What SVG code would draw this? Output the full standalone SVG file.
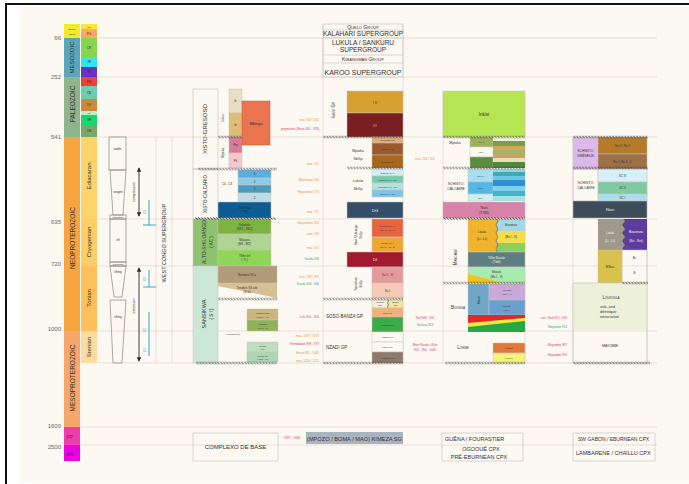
<svg xmlns="http://www.w3.org/2000/svg" width="689" height="484" viewBox="0 0 689 484">
<style>
text{font-family:"Liberation Sans",Arial,Helvetica,sans-serif;fill:#333}
.m{text-anchor:middle}
.e{text-anchor:end}
.v{dominant-baseline:central}
.sc{font-variant:small-caps}
.f25{font-size:2.5px}.f3{font-size:3px}.f35{font-size:3.5px}.f4{font-size:4px}.f45{font-size:4.5px}.f5{font-size:5px}.f55{font-size:5.5px}.f6{font-size:6px}.f65{font-size:6.5px}.f7{font-size:7px}
.grid{stroke:#DCD5CB;stroke-width:0.7;fill:none}
.bx{stroke:#C9C3BA;stroke-width:0.5}
.nb{fill:none;stroke:#C4BEB5;stroke-width:0.6}
.tec{fill:none;stroke:#8A8580;stroke-width:0.7}
.or{fill:#E4984D}.rd{fill:#D2456A}.gn{fill:#2EAF82}.bl{fill:#3AA2CC}
.lt{fill:#F2F2F2}
.age{font-size:6px;fill:#666;text-anchor:end}
.blue{stroke:#38A5D3;stroke-width:1;fill:none}
.arr{stroke:#2A2A2A;stroke-width:0.9;fill:none}
</style>
<defs>
<marker id="ah" viewBox="0 0 6 6" refX="5" refY="3" markerWidth="5" markerHeight="5" orient="auto-start-reverse"><path d="M0 0L6 3L0 6Z" fill="#2A2A2A"/></marker>
<pattern id="wv" width="3" height="3" patternUnits="userSpaceOnUse"><path d="M-0.1 1.5Q0.75 -0.2 1.5 1.5T3.1 1.5" fill="none" stroke="#2A2A2A" stroke-width="0.9"/></pattern>
</defs>

<rect x="0" y="0" width="689" height="484" fill="#FFFFFF"/>
<rect x="20" y="7" width="669" height="476" fill="#FCF8F2"/>
<rect x="5" y="3" width="684" height="2" fill="#111"/>
<rect x="5" y="3" width="2" height="481" fill="#111"/>

<g id="grid" class="grid">
<path d="M97 38H657M97 77H657M97 137H657M97 219H657M97 266H657M97 331H657M97 363H657M80 427H657M80 445H657"/>
<path d="M156 137V363M172 137V363M323 24V363M403 24V363M443 91V363M525 91V363M573 137V363M647 137V363"/>
</g>

<g id="timescale">
<rect x="64" y="24" width="16" height="14" fill="#F2EC2C"/>
<text class="f25 m" x="72" y="30">CENO-</text><text class="f25 m" x="72" y="34.5">ZOIC</text>
<rect x="64" y="38" width="16" height="39" fill="#5AA7BC"/>
<text class="f6 m v" transform="translate(72 57.5) rotate(-90)">MESOZOIC</text>
<rect x="64" y="77" width="16" height="60" fill="#90B48C"/>
<text class="f65 m v" transform="translate(72 104) rotate(-90)">PALEOZOIC</text>
<rect x="64" y="137" width="16" height="194" fill="#F6A540"/>
<text class="f65 m v" transform="translate(72 238) rotate(-90)">NEOPROTEROZOIC</text>
<rect x="64" y="331" width="16" height="96" fill="#F7A66C"/>
<text class="f65 m v" transform="translate(72 378) rotate(-90)">MESOPROTEROZOIC</text>
<rect x="64" y="427" width="16" height="18" fill="#F03CAE"/>
<text class="f5" x="66.5" y="439" style="fill:#7A1F66">PP</text>
<rect x="64" y="445" width="16" height="16" fill="#EE00E6"/>
<text class="f5" x="66.5" y="455.5" style="fill:#6A1070">AR</text>

<rect x="81" y="24" width="16" height="5" fill="#FDE53C"/>
<text class="f25 m" x="89" y="28">NG</text>
<rect x="81" y="29" width="16" height="9" fill="#FBA862"/>
<text class="f3 m" x="89" y="34.5">PG</text>
<rect x="81" y="38" width="16" height="19" fill="#86D54E"/>
<text class="f3 m" x="89" y="48.5">CR</text>
<rect x="81" y="57" width="16" height="10" fill="#2FE6F0"/>
<text class="f3 m" x="89" y="63">JR</text>
<rect x="81" y="67" width="16" height="10" fill="#6A31C8"/>
<text class="f3 m" x="89" y="73">TR</text>
<rect x="81" y="77" width="16" height="9" fill="#EC4238"/>
<text class="f3 m" x="89" y="82.5">PM</text>
<rect x="81" y="86" width="16" height="13" fill="#6ECDB1"/>
<text class="f3 m" x="89" y="93.5">CB</text>
<rect x="81" y="99" width="16" height="12" fill="#C98B3B"/>
<text class="f3 m" x="89" y="106">DV</text>
<rect x="81" y="111" width="16" height="4" fill="#BEEFC4"/>
<text class="f25 m" x="89" y="114">SL</text>
<rect x="81" y="115" width="16" height="10" fill="#18D86B"/>
<text class="f3 m" x="89" y="121">OR</text>
<rect x="81" y="125" width="16" height="12" fill="#79A66B"/>
<text class="f3 m" x="89" y="132">CM</text>
<rect x="81" y="137" width="16" height="82" fill="#FDD46C"/>
<text class="f6 m v" transform="translate(89 176) rotate(-90)">Ediacaran</text>
<rect x="81" y="219" width="16" height="47" fill="#FDCE66"/>
<text class="f6 m v" transform="translate(89 242) rotate(-90)">Cryogenian</text>
<rect x="81" y="266" width="16" height="65" fill="#FDC05A"/>
<text class="f6 m v" transform="translate(89 298) rotate(-90)">Tonian</text>
<rect x="81" y="331" width="16" height="32" fill="#FCDB9F"/>
<text class="f6 m v" transform="translate(89 347) rotate(-90)">Stenian</text>

<text class="age" x="61" y="40">66</text>
<text class="age" x="61" y="79">252</text>
<text class="age" x="61" y="139">541</text>
<text class="age" x="61" y="224">635</text>
<text class="age" x="61" y="266">720</text>
<text class="age" x="61" y="331">1000</text>
<text class="age" x="61" y="428">1600</text>
<text class="age" x="61" y="449">2500</text>
</g>

<g id="tectonics">
<g class="tec">
<rect x="109" y="137" width="17" height="33"/>
<path d="M110 170L126 170L123 215L113 215Z"/>
<rect x="110" y="215" width="16" height="4"/>
<rect x="110" y="219" width="16" height="43"/>
<rect x="110" y="262" width="16" height="4"/>
<path d="M110 266L126 266L122 297L114 297Z"/>
<path d="M110 300L126 300L122 363L113 363Z"/>
</g>
<text class="f3 m" x="117.5" y="150">stable</text>
<text class="f3 m" x="118" y="193">orogen</text>
<text class="f25 m" x="118" y="218">glaciation</text>
<text class="f3 m" x="118" y="241">rift</text>
<text class="f25 m" x="118" y="265">glaciation</text>
<text class="f3 m" x="118" y="273">rifting</text>
<text class="f3 m" x="118" y="318">rifting</text>
<text class="f35 m v" transform="translate(134 192) rotate(-90)">compression</text>
<text class="f35 m v" transform="translate(134 306) rotate(-90)">extension</text>
<path class="blue" d="M149 200V225M143 225H156M149 270V287M143 287H156M149 312V356"/>
<text class="f3 m v bl" transform="translate(145 212) rotate(-90)">E3</text>
<text class="f3 m v bl" transform="translate(145 279) rotate(-90)">E3</text>
<text class="f3 m v bl" transform="translate(145 330) rotate(-90)">E2</text>
<text class="f3 m v bl" transform="translate(145 350) rotate(-90)">E1</text>
<text class="f55 m v" transform="translate(164 243) rotate(-90)">WEST CONGO SUPERGROUP</text>
</g>

<g id="congo-drc">
<rect class="nb" x="193" y="89" width="25" height="80"/>
<text class="f6 m v" transform="translate(205 129) rotate(-90)">XISTO-GRESOSO</text>
<rect class="nb" x="193" y="169" width="25" height="50"/>
<text class="f45 m v" transform="translate(205 194) rotate(-90)">XISTO-CALCARIO</text>
<rect class="bx" x="193" y="219" width="25" height="47" fill="#8DC26F"/>
<text class="f5 m v" transform="translate(203.5 242) rotate(-90)">ALTO-SHILOANGO</text>
<text class="f45 m v" transform="translate(211 242) rotate(-90)">( AC )</text>
<rect class="bx" x="193" y="266" width="25" height="97" fill="#CDE7D7"/>
<text class="f55 m v" transform="translate(203.5 314) rotate(-90)">SANSIKWA</text>
<text class="f45 m v" transform="translate(211 314) rotate(-90)">( S I )</text>
<text class="f3 m v" transform="translate(223 118) rotate(-90)">Inkisi</text>
<text class="f3 m v" transform="translate(223 153) rotate(-90)">Mpioka</text>
<rect class="bx" x="229" y="89" width="13" height="24" fill="#E6DFC6"/>
<text class="f3 m" x="235.5" y="102">In</text>
<rect class="bx" x="229" y="113" width="13" height="24" fill="#DDBC74"/>
<text class="f3 m" x="235.5" y="126">In</text>
<rect class="bx" x="229" y="137" width="13" height="16" fill="#D97C95"/>
<text class="f3 m" x="235.5" y="146">Pw</text>
<rect class="bx" x="229" y="153" width="13" height="15" fill="#F6C8CE"/>
<text class="f3 m" x="235.5" y="161.5">Pk</text>
<rect x="242" y="101" width="28" height="44" fill="#EA7350" stroke="#C8563A" stroke-width="0.5"/>
<text class="f4 m" x="256" y="124.5">Mbinga</text>
<text class="f3 e or" x="319" y="121">max. 558 / 561</text>
<text class="f3 e rd" x="319" y="130">pegmatites (Buria 491 - 474)</text>
<text class="f3 e or" x="319" y="165">max. 557</text>
<text class="f3 m" x="227" y="185">C6 - C8</text>
<rect class="bx" x="238" y="170" width="33" height="8" fill="#5BAEE0"/>
<text class="f3 m" x="254.5" y="175">5</text>
<rect class="bx" x="238" y="178" width="33" height="7" fill="#8ECBE8"/>
<text class="f3 m" x="254.5" y="182.5">4</text>
<rect class="bx" x="238" y="185" width="33" height="8" fill="#4C9BB8"/>
<text class="f3 m" x="254.5" y="190">3</text>
<rect class="bx" x="238" y="193" width="33" height="9" fill="#BFDCE6"/>
<text class="f3 m" x="254.5" y="198.5">2</text>
<rect class="bx" x="218" y="202" width="53" height="16" fill="#0D5C96"/>
<text class="f3 m" x="244.5" y="209" style="fill:#1d2c3a">Tillite Sup</text>
<text class="f3 m" x="244.5" y="213" style="fill:#1d2c3a">( TS )</text>
<text class="f3 e or" x="319" y="181">Mbizhanga 580</text>
<text class="f3 e or" x="319" y="193">Mayumbian 575</text>
<text class="f3 e or" x="319" y="213">max. 727</text>
<rect class="bx" x="218" y="219" width="53" height="15" fill="#7CB443"/>
<text class="f3 m" x="244.5" y="225.5">Sekelolo</text>
<text class="f3 m" x="244.5" y="229.5">(SK1 - SK2)</text>
<rect class="bx" x="218" y="234" width="53" height="16" fill="#AFD493"/>
<text class="f3 m" x="244.5" y="241">Mouyou</text>
<text class="f3 m" x="244.5" y="245">(M1 - M2)</text>
<rect class="bx" x="218" y="250" width="53" height="16" fill="#90D45A"/>
<text class="f3 m" x="244.5" y="257">Tillite Inf</text>
<text class="f3 m" x="244.5" y="261">( TI )</text>
<text class="f3 e or" x="319" y="224">Mayumbian 650</text>
<text class="f3 e or" x="319" y="235">max. 690</text>
<text class="f3 e or" x="319" y="249">max. 670</text>
<text class="f3 e gn" x="319" y="260">Sunda 694</text>
<rect class="bx" x="218" y="266" width="59" height="17" fill="#B29B78"/>
<text class="f3 m" x="247" y="275.5">Bembezi  SI-a</text>
<path d="M218 283L277 283L277 298L218 286Z" fill="#D7C093"/>
<text class="f3 m" x="247" y="289">Tendele SS a/b</text>
<text class="f3 m" x="247" y="293">(SI-b)</text>
<text class="f3 e or" x="319" y="278">max. 923 / 979</text>
<text class="f3 e gn" x="319" y="285">Sunda 908 - 984</text>
<rect class="bx" x="247" y="309" width="31" height="11" fill="#C9B57E"/>
<text class="f25 m" x="262.5" y="314">Mintuel Sup</text>
<text class="f25 m" x="262.5" y="317.5">(Haut 4 - 6)</text>
<rect class="bx" x="247" y="320" width="31" height="11" fill="#8DB356"/>
<text class="f25 m" x="262.5" y="325">Hangole</text>
<text class="f25 m" x="262.5" y="328.5">(Ha 8 - 9)</text>
<text class="f25 m" x="233" y="335">Lukusha Fm</text>
<rect class="bx" x="247" y="342" width="31" height="10" fill="#BEDDC2"/>
<text class="f25 m" x="262.5" y="346.5">Sunda</text>
<text class="f25 m" x="262.5" y="350">( Ti )</text>
<rect class="bx" x="247" y="352" width="31" height="10" fill="#A9D9B2"/>
<text class="f25 m" x="262.5" y="356.5">Mefizi Inf</text>
<text class="f25 m" x="262.5" y="360">(Haut - Fl)</text>
<text class="f3 e rd" x="319" y="318">Lufu 910 - 920</text>
<text class="f3 e or" x="319" y="337">max. 1307 / 1075</text>
<text class="f3 e rd" x="319" y="345">Shimbabwe 999 - 977</text>
<text class="f3 e or" x="319" y="354">Hauzi 985 - 1042</text>
<text class="f3 e or" x="319" y="362">max. 1126 / 1212</text>
</g>

<g id="lower-congo">
<rect class="nb" x="323" y="24" width="80" height="53"/>
<path class="nb" d="M323 30H403M323 38H403M323 55H403M323 63H403"/>
<text class="f5 m sc" x="363" y="28.8">Quelo Group</text>
<text class="f65 m" x="363" y="36.3">KALAHARI SUPERGROUP</text>
<text class="f65 m" x="363" y="45">LUKULA / SANKURU</text>
<text class="f65 m" x="363" y="52">SUPERGROUP</text>
<text class="f5 m sc" x="363" y="61">Kibangwan Group</text>
<text class="f7 m" x="363" y="75">KAROO SUPERGROUP</text>
<text class="f45 m v sc" transform="translate(333 110) rotate(-90)">Inkisi Gp</text>
<rect class="bx" x="347" y="91" width="56" height="22" fill="#D6A033"/>
<text class="f35 m" x="375" y="104">I II</text>
<rect class="bx" x="347" y="113" width="56" height="24" fill="#7B1E22"/>
<text class="f35 m lt" x="375" y="127">I I</text>
<text class="f35 m" x="358" y="152">Mpioka</text>
<text class="f35 m" x="358" y="160">SbGp</text>
<rect class="bx" x="372" y="137" width="31" height="6" fill="#E6AA78"/>
<text class="f25 m" x="387.5" y="141">Luvemba Fm</text>
<rect class="bx" x="372" y="143" width="31" height="12" fill="#9B5B2E"/>
<text class="f25 m" x="387.5" y="150">Bangu Fm</text>
<rect class="bx" x="372" y="155" width="31" height="13" fill="#A8661E"/>
<text class="f25 m" x="387.5" y="162.5">Gidinga Fm</text>
<text class="f3 m or" x="425" y="160">max. 559 / 552</text>
<text class="f35 m" x="358" y="182">Lukala</text>
<text class="f35 m" x="358" y="190">SbGp</text>
<rect class="bx" x="372" y="169" width="31" height="7" fill="#D5EEF5"/>
<text class="f25 m" x="387.5" y="173.5">Ngandu C.IV</text>
<rect class="bx" x="372" y="176" width="31" height="7" fill="#74CCAF"/>
<text class="f25 m" x="387.5" y="180.5">Sangu C.III / C3</text>
<rect class="bx" x="372" y="183" width="31" height="7" fill="#B3E2DE"/>
<text class="f25 m" x="387.5" y="187.5">Lukunga C.II / C4</text>
<rect class="bx" x="372" y="190" width="31" height="7" fill="#7EC3EA"/>
<text class="f25 m" x="387.5" y="194.5">Kwilu C.I / C1</text>
<rect class="bx" x="347" y="202" width="56" height="16" fill="#344D69"/>
<text class="f4 m lt" x="375" y="211.5">DG</text>
<text class="f3 m v" transform="translate(356 235) rotate(-90)">Haut-Shiloango</text>
<text class="f3 m v" transform="translate(361 235) rotate(-90)">SbGp</text>
<rect class="bx" x="372" y="219" width="31" height="18" fill="#E9633E"/>
<text class="f25 m" x="387.5" y="227">Sekelolo SH II</text>
<text class="f25 m" x="387.5" y="231">(SH 3 - SH 5)</text>
<rect class="bx" x="372" y="237" width="31" height="15" fill="#EFA733"/>
<text class="f25 m" x="387.5" y="243.5">Sumbi SH I</text>
<text class="f25 m" x="387.5" y="247.5">(SH 1 - SH 2)</text>
<rect class="bx" x="347" y="252" width="56" height="15" fill="#A3192E"/>
<text class="f4 m lt" x="375" y="261">DI</text>
<text class="f3 m v" transform="translate(356 284) rotate(-90)">Sansikwa</text>
<text class="f3 m v" transform="translate(361 284) rotate(-90)">SbGp</text>
<rect class="bx" x="372" y="267" width="31" height="16" fill="#E39A9C"/>
<text class="f3 m" x="387.5" y="276">Sa II - III</text>
<rect class="bx" x="372" y="283" width="31" height="15" fill="#F6C8B5"/>
<text class="f3 m" x="387.5" y="291.5">Sa I</text>
<text class="f45" x="326" y="317.5">SOSO-BANZA GP</text>
<rect class="bx" x="372" y="300" width="16" height="8" fill="#F1EFD8"/>
<rect class="bx" x="388" y="300" width="15" height="8" fill="#F3E5A2"/>
<path d="M388 300q1.2 1 0 2t0 2t0 2t0 2" fill="none" stroke="#3A3A3A" stroke-width="0.5"/>
<text class="f25 m" x="380" y="303">Kinkuti</text><text class="f25 m" x="380" y="306">Fm</text>
<text class="f25 m" x="395.5" y="303">Bundi</text><text class="f25 m" x="395.5" y="306">Fm</text>
<rect class="bx" x="372" y="308" width="31" height="9" fill="#F2B07C"/>
<text class="f25 m" x="387.5" y="313.5">Inga Fm</text>
<rect class="bx" x="372" y="317" width="31" height="15" fill="#3EAA49"/>
<text class="f25 m" x="387.5" y="325.5">Sangila Fm</text>
<text class="f3 m rd" x="425" y="319">Kell 908 - 920</text>
<text class="f3 m gn" x="425" y="326">Nankou 913</text>
<text class="f45" x="326" y="348.5">NZADI GP</text>
<rect class="bx" x="372" y="332" width="31" height="10" fill="#FCF8F2"/>
<text class="f25 m" x="387.5" y="338">Nsala Fm</text>
<rect class="bx" x="372" y="342" width="31" height="10" fill="#FCF8F2"/>
<text class="f25 m" x="387.5" y="348">Mavo Fm</text>
<rect class="bx" x="372" y="352" width="31" height="11" fill="#8C7A6C"/>
<text class="f25 m" x="387.5" y="358.5">Mbanzi Fm</text>
<text class="f3 m rd" x="425" y="346">Mont Sanda, Ufulo</text>
<text class="f3 m rd" x="425" y="350.5">925 - 950 - 1000</text>
</g>

<g id="gabon">
<rect class="bx" x="443" y="91" width="82" height="46" fill="#B7E655"/>
<text class="f45 m" x="484" y="115.5">Inkisi</text>
<text class="f35 m" x="455" y="144">Mpioka</text>
<rect class="bx" x="470" y="137" width="23" height="10" fill="#9DB15C"/>
<text class="f25 m" x="481.5" y="143">MP II</text>
<rect class="bx" x="470" y="147" width="23" height="10" fill="#FCF8F2"/>
<text class="f25 m" x="481.5" y="153">MP I</text>
<rect class="bx" x="470" y="157" width="23" height="11" fill="#5B8E3C"/>
<rect x="493" y="137" width="32" height="4" fill="#F4F0E0"/>
<rect x="493" y="141" width="32" height="5" fill="#78A04C"/>
<rect x="493" y="146" width="32" height="4" fill="#D9A659"/>
<rect x="493" y="150" width="32" height="4" fill="#9CB76A"/>
<rect x="493" y="154" width="32" height="4" fill="#C7A46B"/>
<rect x="493" y="158" width="32" height="4" fill="#E8E0B0"/>
<rect x="493" y="162" width="32" height="6" fill="#4D8A3E"/>
<text class="f35 m" x="456" y="185">SCHISTO-</text>
<text class="f35 m" x="456" y="190">CALCAIRE</text>
<rect class="bx" x="468" y="169" width="25" height="13" fill="#A7DEF0"/>
<text class="f25 m" x="480.5" y="176.5">SC III</text>
<rect class="bx" x="468" y="182" width="25" height="12" fill="#53B8E7"/>
<text class="f25 m" x="480.5" y="189">SC II</text>
<rect class="bx" x="468" y="194" width="25" height="7" fill="#CBEFF6"/>
<text class="f25 m" x="480.5" y="198.5">SC I</text>
<rect x="493" y="169" width="32" height="3" fill="#8FD6E3"/>
<rect x="493" y="172" width="32" height="4" fill="#3FA9B0"/>
<rect x="493" y="176" width="32" height="4" fill="#6BC9E6"/>
<rect x="493" y="180" width="32" height="6" fill="#2E90D0"/>
<rect x="493" y="186" width="32" height="5" fill="#7FD0E8"/>
<rect x="493" y="191" width="32" height="5" fill="#44B5C8"/>
<rect x="493" y="196" width="32" height="5" fill="#A4E3E0"/>
<rect class="bx" x="443" y="202" width="82" height="16" fill="#D982AA"/>
<text class="f35 m" x="484" y="209">Niari</text>
<text class="f35 m" x="484" y="214">(TSN)</text>
<text class="f45 m v sc" transform="translate(455 257) rotate(-90)">Mayombe</text>
<rect class="bx" x="468" y="219" width="57" height="33" fill="#F1B42C"/>
<path d="M497 219q2 2 0 4t0 4t0 4t0 4t0 4t0 4t0 4t0 4v1H525V219Z" fill="#A5D8E4"/>
<path d="M497.2 231H525V243H497.2Z" fill="#F4DD4C"/>
<path d="M497.2 243H525V252H497.2Z" fill="#8CCF5E"/>
<path d="M497 219q2 2 0 4t0 4t0 4t0 4t0 4t0 4t0 4t0 4v1" fill="none" stroke="#3A3A3A" stroke-width="0.5"/>
<text class="f3 m" x="482" y="233">Louila</text>
<text class="f3 m" x="482" y="240">(Li - Lii)</text>
<text class="f3 m" x="511" y="226">Bouenza</text>
<text class="f3 m" x="511" y="238">(Bz I - II)</text>
<rect class="bx" x="468" y="252" width="57" height="15" fill="#5E7F82"/>
<text class="f3 m lt" x="496.5" y="258.5">Tillite Basale</text>
<text class="f3 m lt" x="496.5" y="263">(Tbib)</text>
<rect class="bx" x="468" y="267" width="57" height="16" fill="#A9EBAE"/>
<path d="M468 274L502 283L468 283Z" fill="#F4C21E"/>
<text class="f3 m" x="496.5" y="273">Mvouti</text>
<text class="f3 m" x="496.5" y="277.5">(Mv I - II)</text>
<text class="f45 m sc" x="458" y="309">Bounga</text>
<rect class="bx" x="468" y="284" width="21" height="31" fill="#6FA7C8"/>
<text class="f3 m v" transform="translate(478.5 300) rotate(-90)">Mvusi</text>
<rect class="bx" x="489" y="284" width="36" height="16" fill="#C9A9D9"/>
<text class="f25 m" x="507" y="291">Moussi</text>
<text class="f25 m" x="507" y="295">(Mn I - II)</text>
<rect class="bx" x="489" y="300" width="36" height="15" fill="#6C9FCD"/>
<text class="f25 m" x="507" y="306.5">Mvouti</text>
<text class="f25 m" x="507" y="310.5">(Mv I)</text>
<rect x="468" y="315" width="57" height="17" fill="#27A745"/>
<path d="M468 315H525V318L468 323Z" fill="#E52628"/>
<path d="M468 323L525 318V321L468 327Z" fill="#F3E63C"/>
<text class="f45 m sc" x="463" y="348.5">Loeme</text>
<rect class="bx" x="493" y="343" width="32" height="10" fill="#E3763B"/>
<text class="f25 m" x="509" y="349">Loeme</text>
<rect class="bx" x="493" y="353" width="32" height="10" fill="#F7F27C"/>
<text class="f25 m" x="509" y="359">Mouyo</text>
<text class="f3 e rd" x="567" y="319">volc. Nzili 912 - 920</text>
<text class="f3 e gn" x="567" y="328">Mayombe 913</text>
<text class="f3 e rd" x="567" y="346">Mayumbe 987</text>
<text class="f3 e rd" x="567" y="356">Mayumbe 970</text>
</g>

<g id="gabon-sw">
<rect class="bx" x="573" y="137" width="25" height="32" fill="#DDB9E9"/>
<text class="f35 m" x="585.5" y="152">SCHISTO-</text>
<text class="f35 m" x="585.5" y="157">GRÉSEUX</text>
<rect class="bx" x="598" y="137" width="49" height="17" fill="#B57B2C"/>
<text class="f3 m" x="622.5" y="146.5">Nz II / Nz 3</text>
<rect class="bx" x="598" y="154" width="49" height="15" fill="#9D7148"/>
<text class="f3 m" x="622.5" y="162.5">Nz I / Nz 1 - 2</text>
<rect class="nb" x="573" y="169" width="25" height="32"/>
<text class="f35 m" x="586" y="184">SCHISTO-</text>
<text class="f35 m" x="586" y="189">CALCAIRE</text>
<rect class="bx" x="598" y="169" width="49" height="13" fill="#D7EFF6"/>
<text class="f3 m" x="622.5" y="176.5">SC III</text>
<rect class="bx" x="598" y="182" width="49" height="12" fill="#80C9A1"/>
<text class="f3 m" x="622.5" y="189">SC II</text>
<rect class="bx" x="598" y="194" width="49" height="7" fill="#A9DEF1"/>
<text class="f3 m" x="622.5" y="198.5">SC I</text>
<rect class="bx" x="573" y="201" width="74" height="17" fill="#3E4C5A"/>
<text class="f4 m lt" x="610" y="211">Niari</text>
<rect x="598" y="219" width="49" height="31" fill="#9E9A8B"/>
<path d="M624 219q2.5 2 0 4t0 4t0 4t0 4t0 4t0 4t0 4t0 3V250H647V219Z" fill="#5D3B9F"/>
<path d="M624 219q2.5 2 0 4t0 4t0 4t0 4t0 4t0 4t0 4t0 3" fill="none" stroke="#3A3A3A" stroke-width="0.5"/>
<text class="f3 m lt" x="610" y="234">Louila</text>
<text class="f3 m lt" x="610" y="242">(Li - Lii)</text>
<text class="f35 m lt" x="636" y="233">Bouenza</text>
<text class="f3 m lt" x="636" y="241.5">(Bzi - Bzii)</text>
<rect class="bx" x="598" y="250" width="24" height="33" fill="#D9C24B"/>
<text class="f3 m" x="610" y="268">M'Bou</text>
<rect class="nb" x="622" y="250" width="25" height="33"/>
<text class="f3 m" x="634.5" y="259">Bc</text>
<text class="f3 m" x="634.5" y="274">B</text>
<rect x="573" y="283" width="74" height="49" fill="#EEF1DA"/>
<rect class="nb" x="573" y="283" width="74" height="80"/>
<text class="f45 m sc" x="611" y="298.5">Loukoula</text>
<text class="f4" x="600" y="308">volc-sed</text>
<text class="f4" x="600" y="313">détritique</text>
<text class="f4" x="600" y="318">intracraton</text>
<text class="f4 m sc" x="610" y="346.5">Mayombe</text>
</g>

<g id="basement">
<rect class="nb" x="193" y="433" width="85" height="28"/>
<text class="f6 m" x="235.5" y="449">COMPLEXO DE BASE</text>
<text class="f3 m rd" x="292" y="439">1947 - 2068</text>
<rect x="306" y="432" width="97" height="12" fill="#A9B4BF"/>
<text class="f6" x="307" y="440.5" textLength="95" lengthAdjust="spacingAndGlyphs">(MPOZO / BOMA / MAO) KIMEZA SG</text>
<rect class="nb" x="442" y="433" width="81" height="28"/>
<text class="f55" x="445" y="440.5">GUÊNA / FOURASTIER</text>
<text class="f55 m" x="481" y="450.5">OGOOUÉ CPX</text>
<text class="f55 m" x="479" y="458.5">PRÉ-EBURNEAN CPX</text>
<rect class="nb" x="573" y="433" width="82" height="28"/>
<text class="f5" x="578" y="440.5">SW GABON  / EBURNEAN CPX</text>
<text class="f55" x="576" y="455">LAMBARENE / CHAILLU CPX</text>
</g>

<g id="connectors">
<line class="arr" x1="139" y1="168" x2="139" y2="216" marker-start="url(#ah)" marker-end="url(#ah)"/>
<line class="arr" x1="139" y1="268" x2="139" y2="361" marker-start="url(#ah)" marker-end="url(#ah)"/>
<rect width="24" height="3" fill="url(#wv)" transform="translate(218 135.5)"/>
<rect width="80" height="3" fill="url(#wv)" transform="translate(323 135.5)"/>
<rect width="82" height="3" fill="url(#wv)" transform="translate(443 135.5)"/>
<rect width="75" height="3" fill="url(#wv)" transform="translate(573 135.5)"/>
<rect width="79" height="3" fill="url(#wv)" transform="translate(198 167.5)"/>
<rect width="56" height="3" fill="url(#wv)" transform="translate(347 166.5)"/>
<rect width="82" height="3" fill="url(#wv)" transform="translate(443 166.5)"/>
<rect width="75" height="3" fill="url(#wv)" transform="translate(573 166.5)"/>
<rect width="81" height="3" fill="url(#wv)" transform="translate(195 217)"/>
<rect width="82" height="3" fill="url(#wv)" transform="translate(443 217)"/>
<rect width="26" height="3" fill="url(#wv)" transform="translate(622 281.5)"/>
<rect width="82" height="3" fill="url(#wv)" transform="translate(443 281.5)"/>
<rect width="59" height="3" fill="url(#wv)" transform="translate(218 297.5)"/>
<rect width="80" height="3" fill="url(#wv)" transform="translate(323 297.5)"/>
<rect width="81" height="3" fill="url(#wv)" transform="translate(196 361.5)"/>
<rect width="80" height="3" fill="url(#wv)" transform="translate(323 361.5)"/>
<rect width="80" height="3" fill="url(#wv)" transform="translate(445 361.5)"/>
<rect width="77" height="3" fill="url(#wv)" transform="translate(573 361.5)"/>
</g>
</svg>
